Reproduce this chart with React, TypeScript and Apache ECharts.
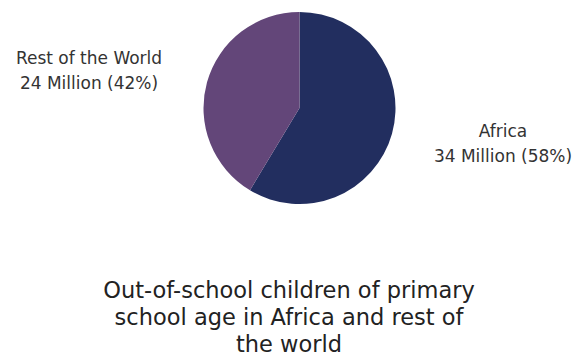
import React, { useEffect, useRef } from "react";
import * as echarts from "echarts";

const categories = ["Africa", "Rest of the World"];
const valuesMillions = [34, 24];
const percentLabels = [58, 42];
const sliceColors = ["#222e5f", "#634679"];
const titleText = "Out-of-school children of primary\nschool age in Africa and rest of\nthe world";

export default function App() {
  const ref = useRef<HTMLDivElement>(null);
  useEffect(() => {
    if (!ref.current) return;
    const chart = echarts.init(ref.current, null, { renderer: "svg" });
    const labelPos = [
      { x: 503, y: 143 },
      { x: 89, y: 70 },
    ];
    chart.setOption({
      animation: false,
      backgroundColor: "#ffffff",
      title: {
        text: titleText,
        left: 284,
        top: 271,
        textAlign: "center",
        textStyle: {
          fontFamily: "DejaVu Sans",
          fontWeight: "normal",
          fontSize: 22.5,
          lineHeight: 27,
          color: "#222222",
        },
      },
      series: [
        {
          type: "pie",
          center: [299.5, 108],
          radius: 96,
          startAngle: 90,
          clockwise: true,
          label: {
            show: true,
            position: "outside",
            fontFamily: "DejaVu Sans",
            fontSize: 17,
            lineHeight: 25,
            color: "#333333",
            align: "center",
            overflow: "none",
            width: 200,
            formatter: (p: any) =>
              `${p.name}\n${p.value} Million (${percentLabels[p.dataIndex]}%)`,
          },
          labelLine: { show: false },
          labelLayout: (params: any) => ({
            x: labelPos[params.dataIndex].x,
            y: labelPos[params.dataIndex].y,
            align: "center",
            verticalAlign: "middle",
          }),
          itemStyle: { borderWidth: 0 },
          emphasis: { disabled: true },
          data: categories.map((c, i) => ({
            name: c,
            value: valuesMillions[i],
            itemStyle: { color: sliceColors[i] },
          })),
        },
      ],
    });
    return () => chart.dispose();
  }, []);
  return (
    <div
      ref={ref}
      style={{ position: "fixed", left: 0, top: 0, width: 578, height: 360 }}
    />
  );
}
